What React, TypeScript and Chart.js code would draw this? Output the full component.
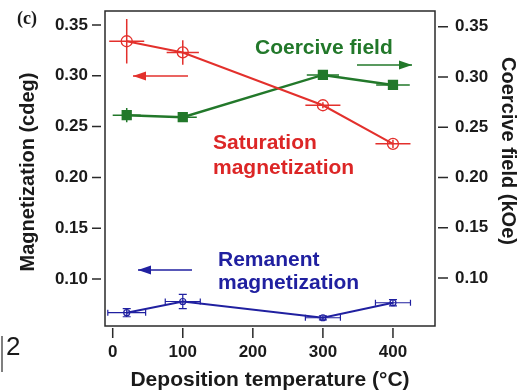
import React, { useEffect, useRef } from "react";
import { Chart, registerables } from "chart.js";

Chart.register(...registerables);

// ---- data ----
const temps = [20, 100, 300, 400];
const satMag = [0.334, 0.323, 0.271, 0.233];
const satMagXErr = [25, 23, 25, 25];
const satMagYErr = [0.022, 0.012, 0.003, 0.004];

const coercive = [0.262, 0.26, 0.302, 0.292];
const coerciveXErr = [20, 20, 23, 24];
const coerciveYErr = [0.007, 0.003, 0.004, 0.004];

const remMag = [0.0668, 0.0778, 0.0618, 0.0766];
const remMagXErr = [27, 25, 25, 25];
const remMagYErr = [0.004, 0.007, 0.002, 0.003];

const xTicks = [0, 100, 200, 300, 400];
const yTicks = [0.1, 0.15, 0.2, 0.25, 0.3, 0.35];

const RED = "#e3302c";
const GREEN = "#22782a";
const BLUE = "#2020a0";
const FONT = '"Liberation Sans", Arial, sans-serif';

const pts = (ys: number[]) => temps.map((x, i) => ({ x, y: ys[i] }));

const errInfo: Record<number, { xe: number[]; ye: number[]; color: string; caps: boolean; lw: number }> = {
  0: { xe: satMagXErr, ye: satMagYErr, color: RED, caps: false, lw: 1.5 },
  1: { xe: coerciveXErr, ye: coerciveYErr, color: GREEN, caps: false, lw: 1.5 },
  2: { xe: remMagXErr, ye: remMagYErr, color: BLUE, caps: true, lw: 1.2 },
};

const errorBarPlugin = {
  id: "errorBars",
  beforeDatasetsDraw(chart: any) {
    const ctx = chart.ctx;
    chart.data.datasets.forEach((ds: any, di: number) => {
      const info = errInfo[di];
      if (!info) return;
      const xs = chart.scales.x;
      const ys = chart.scales[ds.yAxisID];
      ctx.save();
      ctx.strokeStyle = info.color;
      ctx.lineWidth = info.lw;
      ds.data.forEach((p: any, i: number) => {
        const cx = xs.getPixelForValue(p.x);
        const cy = ys.getPixelForValue(p.y);
        const x0 = xs.getPixelForValue(p.x - info.xe[i]);
        const x1 = xs.getPixelForValue(p.x + info.xe[i]);
        const y0 = ys.getPixelForValue(p.y - info.ye[i]);
        const y1 = ys.getPixelForValue(p.y + info.ye[i]);
        ctx.beginPath();
        ctx.moveTo(x0, cy);
        ctx.lineTo(x1, cy);
        ctx.moveTo(cx, y0);
        ctx.lineTo(cx, y1);
        if (info.caps) {
          ctx.moveTo(x0, cy - 3);
          ctx.lineTo(x0, cy + 3);
          ctx.moveTo(x1, cy - 3);
          ctx.lineTo(x1, cy + 3);
          ctx.moveTo(cx - 4, y0);
          ctx.lineTo(cx + 4, y0);
          ctx.moveTo(cx - 4, y1);
          ctx.lineTo(cx + 4, y1);
        }
        ctx.stroke();
      });
      ctx.restore();
    });
  },
};

function arrow(ctx: CanvasRenderingContext2D, x0: number, x1: number, y: number, color: string, headAt: "left" | "right") {
  ctx.save();
  ctx.strokeStyle = color;
  ctx.fillStyle = color;
  ctx.lineWidth = 1.5;
  ctx.beginPath();
  ctx.moveTo(x0, y);
  ctx.lineTo(x1, y);
  ctx.stroke();
  ctx.beginPath();
  if (headAt === "left") {
    ctx.moveTo(x0, y);
    ctx.lineTo(x0 + 13, y - 4.5);
    ctx.lineTo(x0 + 13, y + 4.5);
  } else {
    ctx.moveTo(x1, y);
    ctx.lineTo(x1 - 13, y - 4.5);
    ctx.lineTo(x1 - 13, y + 4.5);
  }
  ctx.closePath();
  ctx.fill();
  ctx.restore();
}

const decorPlugin = {
  id: "decor",
  afterDraw(chart: any) {
    const ctx: CanvasRenderingContext2D = chart.ctx;
    const { left, right, top, bottom } = chart.chartArea;
    const xs = chart.scales.x;
    const yl = chart.scales.y;
    const yr = chart.scales.y1;
    ctx.save();
    // frame
    ctx.strokeStyle = "#2a2a2a";
    ctx.lineWidth = 1.5;
    ctx.strokeRect(left, top, right - left, bottom - top);
    // tick marks
    ctx.beginPath();
    yl.ticks.forEach((t: any) => {
      const y = yl.getPixelForValue(t.value);
      ctx.moveTo(left - 13, y);
      ctx.lineTo(left - 4, y);
    });
    yr.ticks.forEach((t: any) => {
      const y = yr.getPixelForValue(t.value);
      ctx.moveTo(right + 3, y);
      ctx.lineTo(right + 13, y);
    });
    xs.ticks.forEach((t: any) => {
      const x = xs.getPixelForValue(t.value);
      ctx.moveTo(x, bottom + 2);
      ctx.lineTo(x, bottom + 12);
    });
    ctx.stroke();

    // axis titles
    ctx.fillStyle = "#1a1a1a";
    ctx.textAlign = "center";
    ctx.textBaseline = "middle";
    ctx.font = `bold 21px ${FONT}`;
    ctx.fillText("Deposition temperature (°C)", 270, 380);
    ctx.font = `bold 20px ${FONT}`;
    ctx.save();
    ctx.translate(28, 172);
    ctx.rotate(-Math.PI / 2);
    ctx.fillText("Magnetization (cdeg)", 0, 0);
    ctx.restore();
    ctx.save();
    ctx.translate(508, 151);
    ctx.rotate(Math.PI / 2);
    ctx.fillText("Coercive field (kOe)", 0, 0);
    ctx.restore();

    // panel label
    ctx.font = `bold 18px "Liberation Serif", "Times New Roman", serif`;
    ctx.textAlign = "left";
    ctx.fillText("(c)", 17, 19);

    // stray "2" from the source crop
    ctx.font = `26px ${FONT}`;
    ctx.fillText("2", 6, 348);
    ctx.strokeStyle = "#555";
    ctx.lineWidth = 1.5;
    ctx.beginPath();
    ctx.moveTo(2, 336);
    ctx.lineTo(2, 372);
    ctx.stroke();

    // annotations
    ctx.textAlign = "left";
    ctx.font = `bold 21px ${FONT}`;
    ctx.fillStyle = GREEN;
    ctx.fillText("Coercive field", 255, 48);
    ctx.fillStyle = "#dc2626";
    ctx.fillText("Saturation", 213, 143);
    ctx.fillText("magnetization", 213, 168);
    ctx.fillStyle = BLUE;
    ctx.fillText("Remanent", 218, 260);
    ctx.fillText("magnetization", 218, 283);

    arrow(ctx, 133, 188, 76, RED, "left");
    arrow(ctx, 357, 412, 65, GREEN, "right");
    arrow(ctx, 138, 192, 270, BLUE, "left");
    ctx.restore();
  },
};

export default function App() {
  const ref = useRef<HTMLCanvasElement>(null);
  useEffect(() => {
    if (!ref.current) return;
    const tickFont = { family: FONT, size: 17, weight: "bold" as const };
    const chart = new Chart(ref.current, {
      type: "scatter",
      data: {
        datasets: [
          {
            label: "Saturation magnetization",
            data: pts(satMag),
            yAxisID: "y",
            showLine: true,
            borderColor: RED,
            borderWidth: 2,
            backgroundColor: "transparent",
            pointStyle: "circle",
            pointRadius: 5.5,
            pointBorderWidth: 1.3,
            pointBorderColor: RED,
            pointBackgroundColor: "transparent",
          },
          {
            label: "Coercive field",
            data: pts(coercive),
            yAxisID: "y1",
            showLine: true,
            borderColor: GREEN,
            borderWidth: 2.5,
            backgroundColor: GREEN,
            pointStyle: "rect",
            pointRadius: 5.5,
            pointBorderColor: GREEN,
            pointBackgroundColor: GREEN,
          },
          {
            label: "Remanent magnetization",
            data: pts(remMag),
            yAxisID: "y",
            showLine: true,
            borderColor: BLUE,
            borderWidth: 2,
            backgroundColor: "transparent",
            pointStyle: "circle",
            pointRadius: 3,
            pointBorderWidth: 1.2,
            pointBorderColor: BLUE,
            pointBackgroundColor: "transparent",
          },
        ],
      },
      options: {
        animation: false,
        responsive: false,
        maintainAspectRatio: false,
        layout: { padding: { top: 11, left: 0, right: 0, bottom: 0 } },
        plugins: { legend: { display: false }, tooltip: { enabled: false } },
        scales: {
          x: {
            type: "linear",
            min: -11,
            max: 460,
            grid: { display: false, drawTicks: false },
            border: { display: false },
            afterBuildTicks: (s: any) => {
              s.ticks = xTicks.map((v) => ({ value: v }));
            },
            afterFit: (s: any) => {
              s.height = 65;
              s.paddingLeft = 0;
              s.paddingRight = 0;
            },
            ticks: { font: tickFont, color: "#1a1a1a", padding: 16, maxRotation: 0, callback: (v: any) => String(v) },
          },
          y: {
            type: "linear",
            position: "left",
            min: 0.0537,
            max: 0.3638,
            grid: { display: false, drawTicks: false },
            border: { display: false },
            afterBuildTicks: (s: any) => {
              s.ticks = yTicks.map((v) => ({ value: v }));
            },
            afterFit: (s: any) => {
              s.width = 105;
              s.paddingTop = 0;
              s.paddingBottom = 0;
            },
            ticks: { font: tickFont, color: "#1a1a1a", padding: 17, callback: (v: any) => Number(v).toFixed(2) },
          },
          y1: {
            type: "linear",
            position: "right",
            min: 0.0522,
            max: 0.3656,
            grid: { display: false, drawTicks: false },
            border: { display: false },
            afterBuildTicks: (s: any) => {
              s.ticks = yTicks.map((v) => ({ value: v }));
            },
            afterFit: (s: any) => {
              s.width = 87;
              s.paddingTop = 0;
              s.paddingBottom = 0;
            },
            ticks: { font: tickFont, color: "#1a1a1a", padding: 20, callback: (v: any) => Number(v).toFixed(2) },
          },
        },
      },
      plugins: [errorBarPlugin, decorPlugin],
    });
    return () => chart.destroy();
  }, []);
  return (
    <div style={{ position: "fixed", left: 0, top: 0, width: 522, height: 391, background: "#fff" }}>
      <canvas ref={ref} width={522} height={391} style={{ width: 522, height: 391, display: "block" }} />
    </div>
  );
}
